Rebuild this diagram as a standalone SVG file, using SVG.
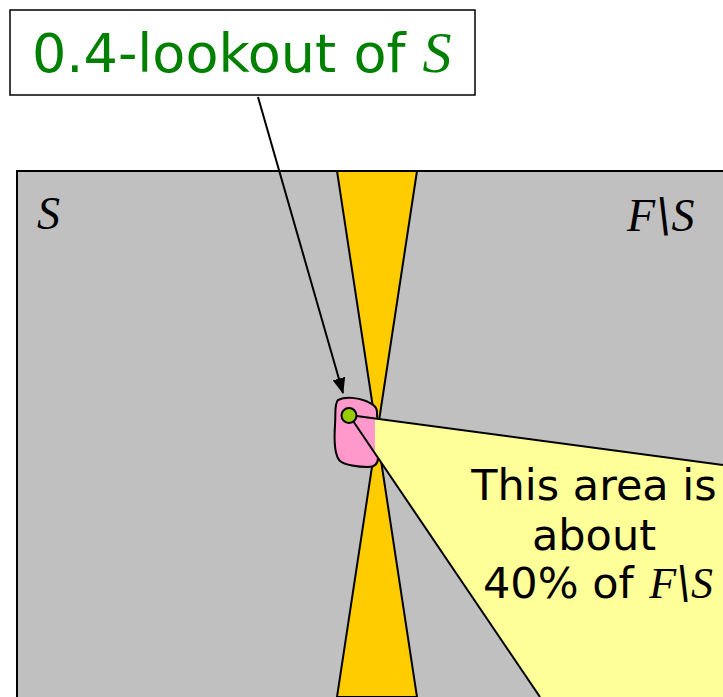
<svg xmlns="http://www.w3.org/2000/svg" width="723" height="697" viewBox="0 0 723 697">
<style>
.ln{stroke:#000;stroke-width:2;fill:none}
.sans{font-family:"DejaVu Sans","Verdana",sans-serif}
.it{font-family:"Liberation Serif","Times New Roman",serif;font-style:italic}
.bs{font-family:"DejaVu Serif",serif;font-style:italic}
</style>
<defs>
<marker id="ah" markerWidth="16" markerHeight="13" refX="15" refY="6.5" orient="auto" markerUnits="userSpaceOnUse" viewBox="0 0 16 13">
<path d="M0,0 L16,6.5 L0,13 z" fill="#000"/>
</marker>
</defs>
<rect width="723" height="697" fill="#fff"/>
<g id="region-F">
<rect x="17" y="171" width="720" height="540" fill="#C0C0C0" stroke="#000" stroke-width="2"/>
<text class="it" x="37" y="229" font-size="46">S</text>
<text class="it" x="627" y="231" font-size="46">F<tspan class="bs" dx="1">\</tspan>S</text>
</g>
<g id="hourglass">
<polygon points="337,171 417,171 377,434" fill="#FFCC00" stroke="#000" stroke-width="2"/>
<polygon points="337,697 417,697 377,434" fill="#FFCC00" stroke="#000" stroke-width="2"/>
</g>
<g id="blob">
<path d="M338,400 C346,396 358,398 366,401 C372,404 377,406 377,412 L378,458 C378,464 374,467 368,467 C358,467 345,465 340,461 C334,455 334,440 335,425 C336,414 334,404 338,400 Z" fill="#FF99CC" stroke="#000" stroke-width="2"/>
</g>
<g id="area">
<polygon points="375,417.5 723,465 723,697 540,697 375,454" fill="#FFFF99"/>
<text class="sans" font-size="43" text-anchor="middle"><tspan x="594" y="500">This area is</tspan><tspan x="594" y="550">about</tspan></text>
<text class="sans" font-size="43" x="483" y="598">40% of <tspan class="it" font-size="44" dx="2">F<tspan class="bs">\</tspan>S</tspan></text>
</g>
<g id="connectors">
<line class="ln" x1="349" y1="415" x2="723" y2="465"/>
<line class="ln" x1="349" y1="415" x2="540" y2="697"/>
<line class="ln" x1="258" y1="97" x2="343" y2="393" marker-end="url(#ah)"/>
</g>
<g id="dot">
<circle cx="349" cy="415.5" r="7.5" fill="#99CC00" stroke="#000" stroke-width="2"/>
</g>
<g id="label">
<rect x="10" y="10" width="465" height="85" fill="#fff" stroke="#000" stroke-width="1.5"/>
<text class="sans" x="32" y="72" font-size="54" fill="#008000">0.4-lookout of <tspan class="it" font-size="58">S</tspan></text>
</g>
</svg>
